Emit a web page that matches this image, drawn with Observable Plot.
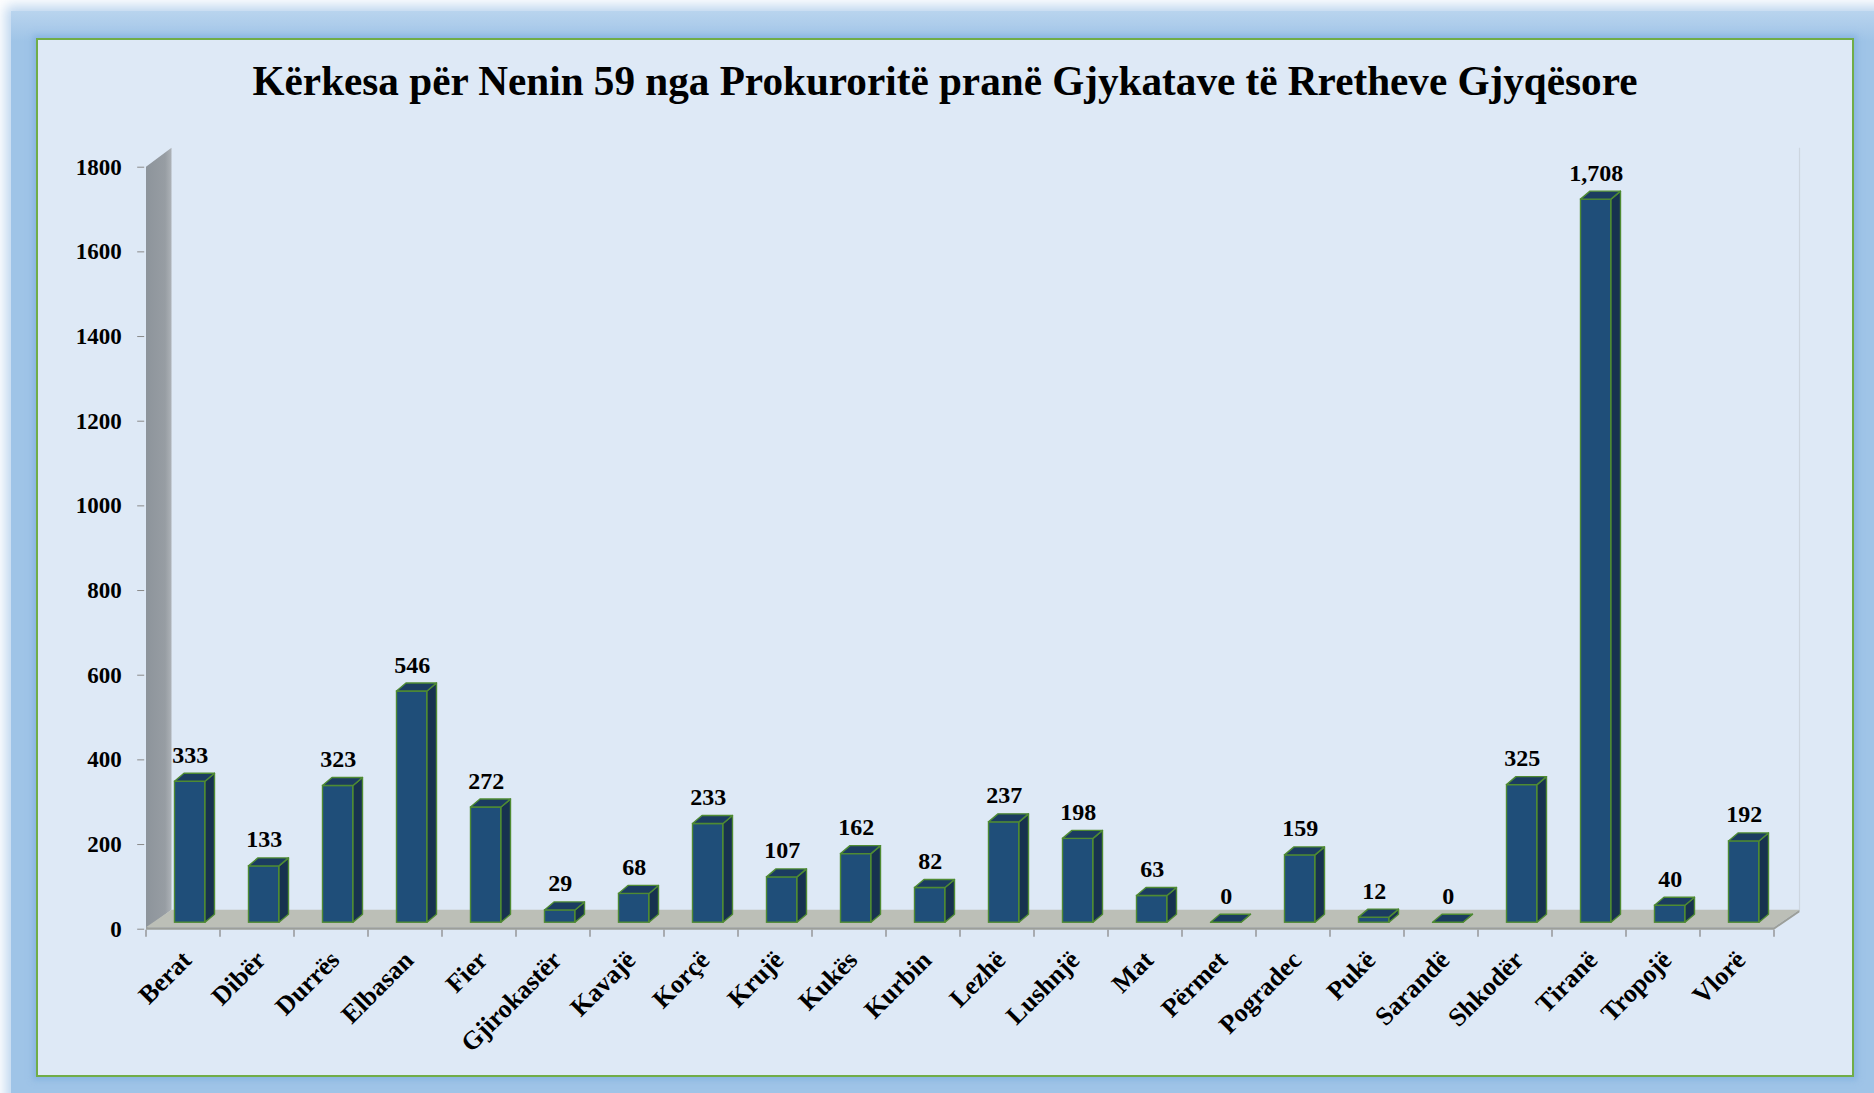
<!DOCTYPE html>
<html>
<head>
<meta charset="utf-8">
<script src="https://cdn.jsdelivr.net/npm/d3@7"></script>
<script src="https://cdn.jsdelivr.net/npm/@observablehq/plot@0.6"></script>
<style>
  html, body { margin: 0; padding: 0; background: #ffffff; width: 1874px; height: 1093px; overflow: hidden; }
  #frame { position: absolute; left: 11px; top: 11px; width: 1874px; height: 1093px;
           background: linear-gradient(to bottom, #b9d4ee, #9fc4e7 30px, #9fc4e7);
           box-shadow: 0 0 12px 5px rgba(175, 205, 235, 0.85); }
  #panel { position: absolute; left: 36px; top: 38px; width: 1818px; height: 1039px; box-sizing: border-box;
           background: #dee9f6; border: 2px solid #70ad47; box-shadow: 0 0 6px 3px rgba(120,170,220,0.6); }
  #title { position: absolute; left: 36px; width: 1818px; top: 61px; text-align: center;
           font-family: "Liberation Serif", serif; font-weight: bold; font-size: 41.2px; line-height: 41px; color: #000; }
  #chart { position: absolute; left: 0; top: 0; }
</style>
</head>
<body>
<div id="frame"></div>
<div id="panel"></div>
<div id="title">Kërkesa për Nenin 59 nga Prokuroritë pranë Gjykatave të Rretheve Gjyqësore</div>
<div id="chart"></div>
<script>
const categories = ["Berat","Dibër","Durrës","Elbasan","Fier","Gjirokastër","Kavajë","Korçë","Krujë","Kukës","Kurbin","Lezhë","Lushnjë","Mat","Përmet","Pogradec","Pukë","Sarandë","Shkodër","Tiranë","Tropojë","Vlorë"];
const values = [333,133,323,546,272,29,68,233,107,162,82,237,198,63,0,159,12,0,325,1708,40,192];
const yTicks = [0,200,400,600,800,1000,1200,1400,1600,1800];

const data = categories.map((c, i) => ({cat: c, value: values[i]}));

// 3D styling (pixels)
const FRONT_OFF = 28.5, FRONT_W = 30.5, SIDE_DX = 9.5, SIDE_DY = -8, BASE_DY = -6.5;
const DEPTH_DX = 25.5, DEPTH_DY = -19;
const FRONT = "#1f4e79", SIDE = "#17324f", TOP = "#1b3c60", EDGE = "#4f8b33";
const font = "Liberation Serif, serif";

function bw(x) { return typeof x.bandwidth === "function" ? x.bandwidth() : x.bandwidth; }

// wall + floor + back edge + x ticks, from the scales
function walls(index, scales) {
  const {x, y} = scales;
  const b = bw(x);
  const xl = x(categories[0]), xr = x(categories[categories.length - 1]) + b;
  const y0 = y(0), yt = y(1800);
  const g = d3.create("svg:g");
  const defs = g.append("defs");
  const lg = defs.append("linearGradient").attr("id", "wallg").attr("x1", 0).attr("x2", 1).attr("y1", 0).attr("y2", 0);
  lg.append("stop").attr("offset", 0).attr("stop-color", "#8d949b");
  lg.append("stop").attr("offset", 0.75).attr("stop-color", "#979da3");
  lg.append("stop").attr("offset", 1).attr("stop-color", "#adb2b7");
  // back wall right edge
  g.append("line").attr("x1", xr + DEPTH_DX).attr("x2", xr + DEPTH_DX)
    .attr("y1", yt + DEPTH_DY).attr("y2", y0 + DEPTH_DY).attr("stroke", "#cdd6e0").attr("stroke-width", 1.2);
  // left wall
  g.append("polygon").attr("points", [[xl, y0], [xl, yt], [xl + DEPTH_DX, yt + DEPTH_DY], [xl + DEPTH_DX, y0 + DEPTH_DY]].join(" "))
    .attr("fill", "url(#wallg)");
  // floor
  g.append("polygon").attr("points", [[xl, y0 - 1.5], [xr, y0 - 1.5], [xr + DEPTH_DX, y0 + DEPTH_DY], [xl + DEPTH_DX, y0 + DEPTH_DY]].join(" "))
    .attr("fill", "#bcbfb7");
  g.append("polygon").attr("points", [[xl, y0 - 1.5], [xr, y0 - 1.5], [xr + DEPTH_DX, y0 + DEPTH_DY], [xr + DEPTH_DX, y0 + DEPTH_DY + 2.5], [xr, y0 + 1], [xl, y0 + 1]].join(" "))
    .attr("fill", "#9c9f9a");
  // x ticks at band boundaries
  const edges = categories.map(c => x(c)).concat([xr]);
  for (const e of edges) {
    g.append("line").attr("x1", e).attr("x2", e).attr("y1", y0 + 1).attr("y2", y0 + 8)
      .attr("stroke", "#8a8a8a").attr("stroke-width", 1.3);
  }
  return g.node();
}

// side + top faces of each bar
function faces(index, scales) {
  const {x, y} = scales;
  const g = d3.create("svg:g").attr("stroke", EDGE).attr("stroke-width", 1.4).attr("stroke-linejoin", "round");
  for (const d of data) {
    const x0 = x(d.cat) + FRONT_OFF, x1 = x0 + FRONT_W;
    const yb = y(0) + BASE_DY, yt = y(d.value) + BASE_DY;
    g.append("polygon").attr("points", [[x1, yb], [x1, yt], [x1 + SIDE_DX, yt + SIDE_DY], [x1 + SIDE_DX, yb + SIDE_DY]].join(" "))
      .attr("fill", SIDE);
    g.append("polygon").attr("points", [[x0, yt], [x1, yt], [x1 + SIDE_DX, yt + SIDE_DY], [x0 + SIDE_DX, yt + SIDE_DY]].join(" "))
      .attr("fill", TOP);
  }
  return g.node();
}

const W = 1874, H = 1093;
const xLeft = 144.2, xRight = 1776.6, yBottom = 928.7, yTop = 166.7;

const chart = Plot.plot({
  width: W, height: H,
  marginLeft: xLeft, marginRight: W - xRight, marginTop: yTop, marginBottom: H - yBottom,
  style: {background: "transparent", overflow: "visible"},
  x: {type: "band", domain: categories, padding: 0, range: [xLeft, xRight], axis: null},
  y: {domain: [0, 1800], range: [yBottom, yTop]},
  marks: [
    walls,
    Plot.barY(data, {x: "cat", y: "value", fill: FRONT, stroke: EDGE, strokeWidth: 1.4,
      insetLeft: FRONT_OFF, insetRight: (xRight - xLeft) / categories.length - FRONT_OFF - FRONT_W, dy: BASE_DY}),
    faces,
    Plot.text(data, {x: "cat", y: "value", text: d => d3.format(",")(d.value),
      dx: FRONT_OFF + FRONT_W / 2 - (xRight - xLeft) / categories.length / 2, dy: BASE_DY - 19,
      lineAnchor: "bottom", fontFamily: font, fontWeight: "bold", fontSize: 24, fill: "#000"}),
    Plot.axisY({ticks: yTicks, tickSize: 7, tickPadding: 16, tickFormat: d => String(d), stroke: "#8a8a8a",
      fontFamily: font, fontWeight: "bold", fontSize: 23, fill: "#000", label: null}),
    Plot.text(categories, {x: d => d, text: d => d, frameAnchor: "bottom", rotate: -45,
      textAnchor: "end", lineAnchor: "bottom", dx: 9.5, dy: 32.5,
      fontFamily: font, fontWeight: "bold", fontSize: 26, fill: "#000"})
  ]
});
document.getElementById("chart").appendChild(chart);
</script>
</body>
</html>
